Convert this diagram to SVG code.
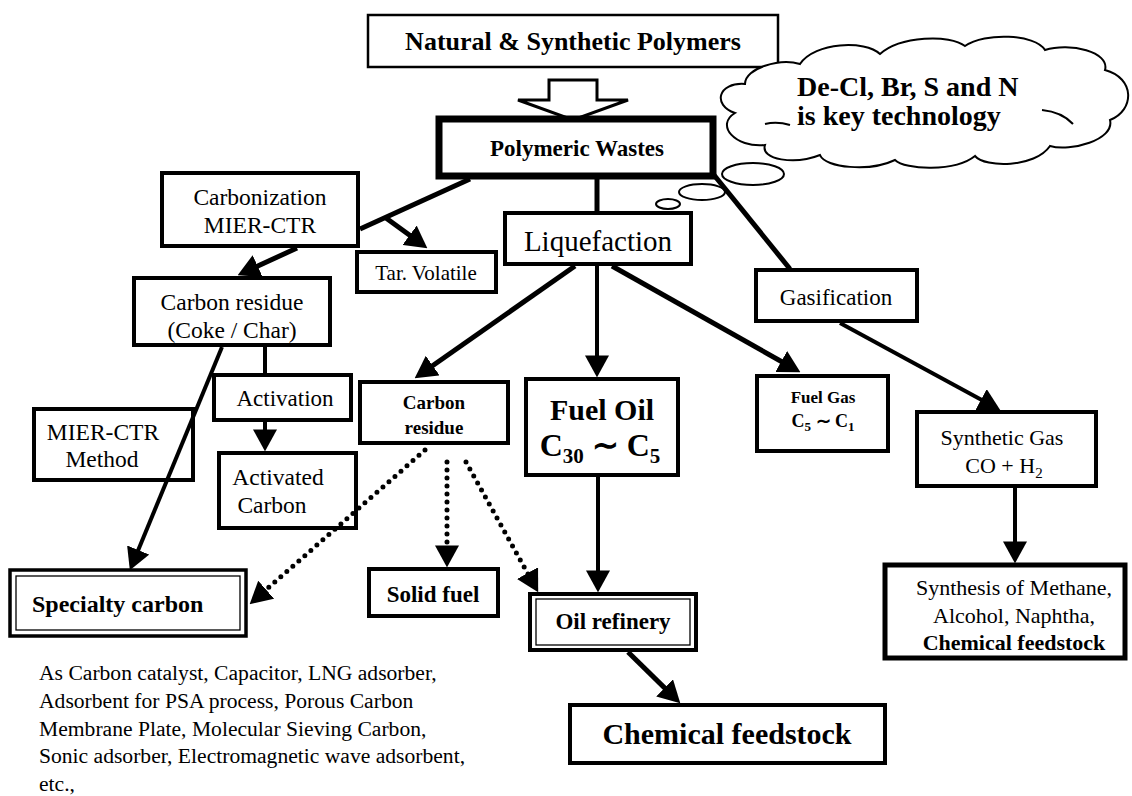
<svg xmlns="http://www.w3.org/2000/svg" width="1132" height="796" viewBox="0 0 1132 796">
<style>
.box{fill:#fff;stroke:#000;stroke-width:4}
.thin{fill:none;stroke:#000;stroke-width:1.3}
.t{font-family:"Liberation Serif","Times New Roman",serif;fill:#000;text-anchor:middle}
.b{font-weight:bold}
.ln{stroke:#000;stroke-width:5;fill:none}
.dot{stroke:#000;stroke-width:5;fill:none;stroke-dasharray:0 8;stroke-linecap:round}
.ol{fill:none;stroke:#000;stroke-width:2}
</style>
<defs>
<marker id="ah" viewBox="0 0 22 24" markerWidth="22" markerHeight="24" refX="15" refY="12" orient="auto" markerUnits="userSpaceOnUse">
<path d="M0,0 L22,12 L0,24 z" fill="#000" stroke="none"/>
</marker>
</defs>
<rect width="1132" height="796" fill="#fff"/>

<g id="natural">
<rect x="368" y="15" width="410" height="52" fill="#fff" stroke="#000" stroke-width="2.5"/>
<text class="t b" x="573" y="50" font-size="26">Natural &amp; Synthetic Polymers</text>
</g>
<g id="hollow-arrow">
<polygon points="549,80 597,80 597,100 628,100 573,120 518,100 549,100" fill="#fff" stroke="#000" stroke-width="3"/>
</g>
<g id="polymeric">
<rect x="439" y="119" width="274" height="57" fill="#fff" stroke="#000" stroke-width="7"/>
<text class="t b" x="577" y="156" font-size="23">Polymeric Wastes</text>
</g>
<g id="cloud">
<path class="ol" style="fill:#fff" d="M 800,64 C 815,42 865,40 880,54 C 900,36 950,34 965,46 C 985,32 1035,34 1045,50 C 1070,42 1110,52 1105,70 C 1135,78 1135,110 1110,120 C 1115,140 1070,152 1050,146 C 1035,168 985,168 975,156 C 955,172 905,170 895,160 C 870,172 825,168 820,155 C 795,165 760,160 765,145 C 735,148 715,125 735,113 C 712,105 718,82 745,84 C 745,68 780,58 800,64 Z"/>
<path class="ol" d="M 765,124 q 12,-3 25,1"/>
<path class="ol" d="M 1042,110 q 20,2 31,14"/>
<text class="t b" x="797" y="96" font-size="28" style="text-anchor:start">De-Cl, Br, S and N</text>
<text class="t b" x="797" y="125" font-size="28" style="text-anchor:start">is key technology</text>
<ellipse class="ol" cx="753" cy="174" rx="31" ry="11"/>
<ellipse class="ol" cx="702" cy="192" rx="23" ry="8"/>
<ellipse class="ol" cx="668" cy="204" rx="12" ry="5"/>
</g>
<g id="carbonization">
<rect class="box" x="162" y="173" width="196" height="73"/>
<text class="t" x="260" y="205" font-size="23.5">Carbonization</text>
<text class="t" x="260" y="233" font-size="23.5">MIER-CTR</text>
</g>
<g id="tar">
<rect class="box" x="357" y="252" width="139" height="40"/>
<text class="t" x="426" y="280" font-size="21">Tar. Volatile</text>
</g>
<g id="liquefaction">
<rect class="box" x="505" y="213" width="186" height="51"/>
<text class="t" x="598" y="251" font-size="29">Liquefaction</text>
</g>
<g id="gasification">
<rect class="box" x="756" y="270" width="161" height="51"/>
<text class="t" x="836" y="305" font-size="23">Gasification</text>
</g>
<g id="carbon-residue-coke">
<rect class="box" x="134" y="278" width="196" height="67"/>
<text class="t" x="232" y="310" font-size="23.5">Carbon residue</text>
<text class="t" x="232" y="338" font-size="23.5">(Coke / Char)</text>
</g>
<g id="activation">
<rect class="box" x="214" y="375" width="137" height="45"/>
<text class="t" x="285" y="406" font-size="23">Activation</text>
</g>
<g id="carbon-residue">
<rect class="box" x="360" y="382" width="148" height="61"/>
<text class="t b" x="434" y="409" font-size="19">Carbon</text>
<text class="t b" x="434" y="434" font-size="19">residue</text>
</g>
<g id="fuel-oil">
<rect class="box" x="526" y="379" width="152" height="96"/>
<text class="t b" x="602" y="420" font-size="30">Fuel Oil</text>
<text class="t b" x="600" y="456" font-size="32">C<tspan font-size="21" dy="7">30</tspan><tspan dy="-7"> ∼ C</tspan><tspan font-size="21" dy="7">5</tspan></text>
</g>
<g id="fuel-gas">
<rect class="box" x="757" y="376" width="131" height="75"/>
<text class="t b" x="823" y="403" font-size="17">Fuel Gas</text>
<text class="t b" x="823" y="427" font-size="18">C<tspan font-size="13" dy="4">5</tspan><tspan dy="-4"> ∼ C</tspan><tspan font-size="13" dy="4">1</tspan></text>
</g>
<g id="mier-method">
<rect class="box" x="34" y="409" width="159" height="71"/>
<text class="t" x="103" y="440" font-size="23.5">MIER-CTR</text>
<text class="t" x="102" y="467" font-size="23.5">Method</text>
</g>
<g id="activated-carbon">
<rect class="box" x="219" y="453" width="137" height="75"/>
<text class="t" x="278" y="485" font-size="23.5">Activated</text>
<text class="t" x="272" y="513" font-size="23.5">Carbon</text>
</g>
<g id="synthetic-gas">
<rect class="box" x="917" y="412" width="179" height="74"/>
<text class="t" x="1002" y="445" font-size="22">Synthetic Gas</text>
<text class="t" x="1004" y="473" font-size="22">CO + H<tspan font-size="15" dy="5">2</tspan></text>
</g>
<g id="synthesis">
<rect class="box" x="885" y="565" width="240" height="93" style="stroke-width:5"/>
<text class="t" x="1014" y="595" font-size="22">Synthesis of Methane,</text>
<text class="t" x="1014" y="623" font-size="22">Alcohol, Naphtha,</text>
<text class="t b" x="1014" y="650" font-size="22">Chemical feedstock</text>
</g>
<g id="specialty-carbon">
<rect class="box" x="10" y="570" width="236" height="66" style="stroke-width:3.5"/>
<rect class="thin" x="16" y="576" width="224" height="54"/>
<text class="t b" x="32" y="612" font-size="24" style="text-anchor:start">Specialty carbon</text>
</g>
<g id="solid-fuel">
<rect class="box" x="369" y="569" width="129" height="47"/>
<text class="t b" x="433" y="602" font-size="23">Solid fuel</text>
</g>
<g id="oil-refinery">
<rect class="box" x="530" y="594" width="166" height="56"/>
<rect class="thin" x="536" y="599" width="154" height="46"/>
<text class="t b" x="613" y="629" font-size="23">Oil refinery</text>
</g>
<g id="chemical-feedstock">
<rect class="box" x="570" y="705" width="315" height="58"/>
<text class="t b" x="727" y="744" font-size="30">Chemical feedstock</text>
</g>
<g id="applications">
<text class="t" font-size="21.6" style="text-anchor:start">
<tspan x="39" y="680">As Carbon catalyst, Capacitor, LNG adsorber,</tspan>
<tspan x="39" y="708">Adsorbent for PSA process, Porous Carbon</tspan>
<tspan x="39" y="736">Membrane Plate, Molecular Sieving Carbon,</tspan>
<tspan x="39" y="763">Sonic adsorber, Electromagnetic wave adsorbent,</tspan>
<tspan x="39" y="791">etc.,</tspan>
</text>
</g>

<g id="connectors">
<line class="ln" x1="470" y1="179" x2="360" y2="229"/>
<line class="ln" x1="386" y1="218" x2="421.7" y2="244.1" marker-end="url(#ah)"/>
<line class="ln" x1="297" y1="248" x2="244" y2="272.3" marker-end="url(#ah)"/>
<line class="ln" x1="597" y1="179" x2="597" y2="212"/>
<line class="ln" x1="714" y1="175" x2="790" y2="269"/>
<line class="ln" x1="575" y1="266" x2="420.4" y2="374.2" marker-end="url(#ah)"/>
<line class="ln" x1="597" y1="266" x2="597" y2="370.4" style="stroke-width:4" marker-end="url(#ah)"/>
<line class="ln" x1="612" y1="266" x2="794.3" y2="368.8" marker-end="url(#ah)"/>
<line class="ln" x1="840" y1="323" x2="994.2" y2="406.8" style="stroke-width:4" marker-end="url(#ah)"/>
<line class="ln" x1="265" y1="346" x2="265" y2="375" style="stroke-width:4"/>
<line class="ln" x1="265" y1="422" x2="265" y2="444.4" style="stroke-width:4" marker-end="url(#ah)"/>
<line class="ln" x1="222" y1="347" x2="132.5" y2="563.9" style="stroke-width:4" marker-end="url(#ah)"/>
<line class="dot" x1="425" y1="450" x2="254.9" y2="599.6" marker-end="url(#ah)"/>
<line class="dot" x1="447" y1="462" x2="447" y2="560.4" marker-end="url(#ah)"/>
<line class="dot" x1="466" y1="462" x2="534.8" y2="586.2" marker-end="url(#ah)"/>
<line class="ln" x1="598" y1="477" x2="598" y2="585.4" style="stroke-width:4" marker-end="url(#ah)"/>
<line class="ln" x1="628" y1="652" x2="675.3" y2="698.4" marker-end="url(#ah)"/>
<line class="ln" x1="1015" y1="488" x2="1015" y2="556.4" style="stroke-width:4" marker-end="url(#ah)"/>
</g>
</svg>
